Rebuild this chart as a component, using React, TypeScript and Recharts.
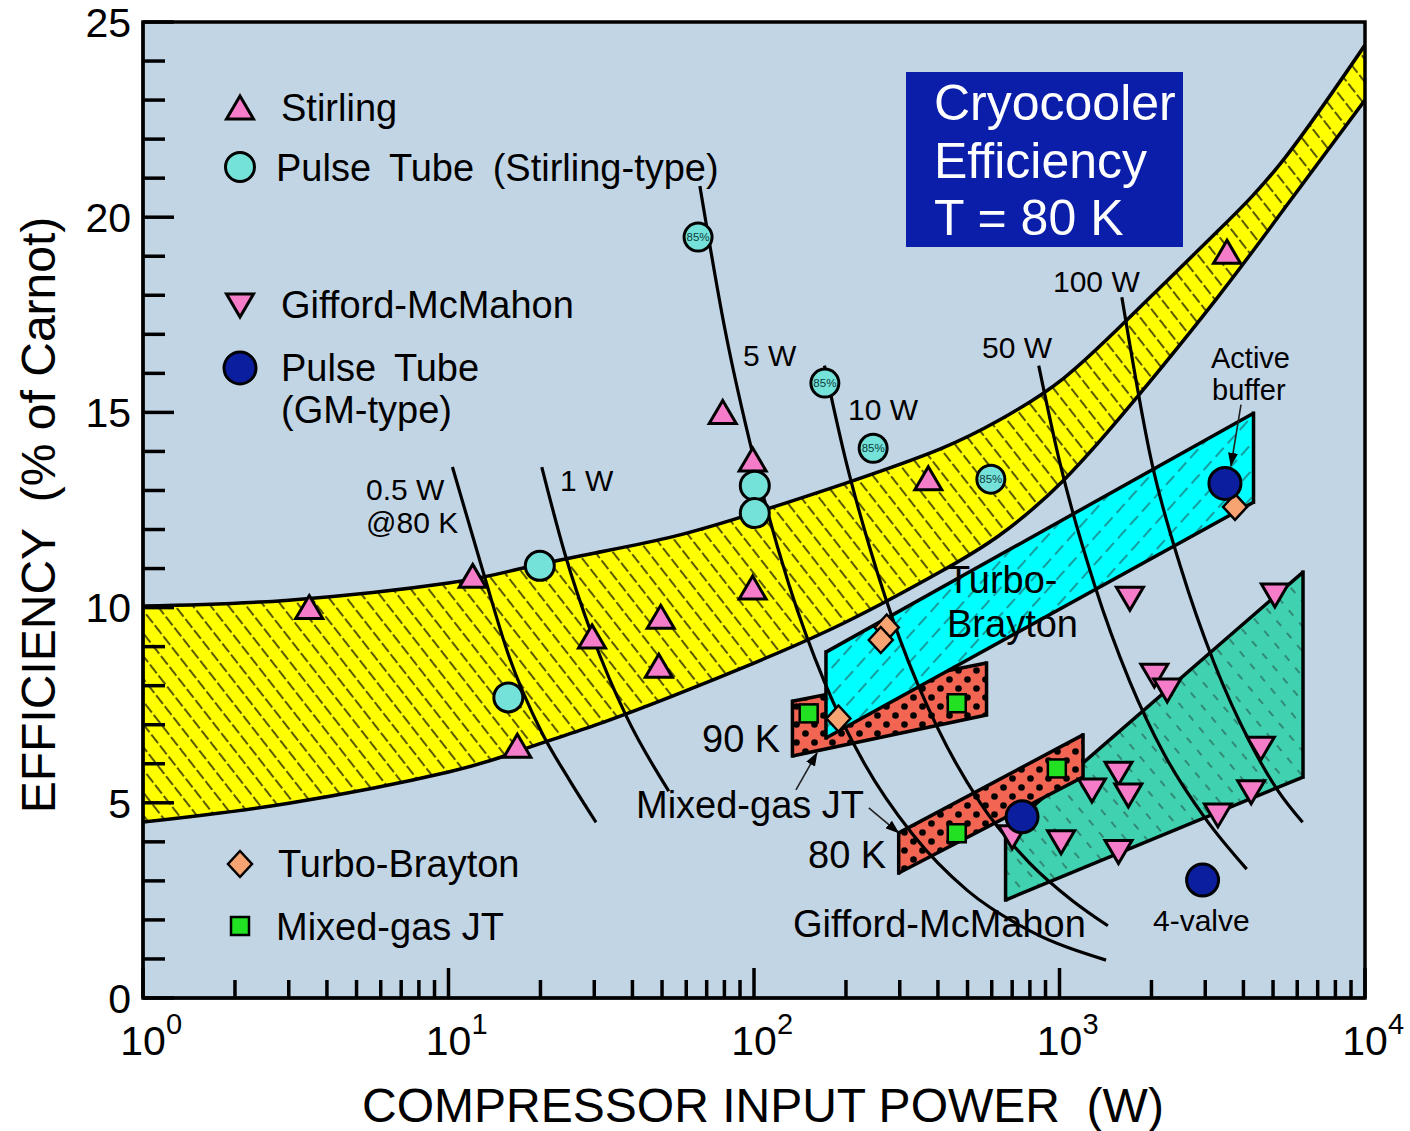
import React from 'react'
import { Area, ComposedChart, Line, Scatter, XAxis, YAxis, CartesianGrid } from 'recharts'

const FONT = '"Liberation Sans", Arial, Helvetica, sans-serif'

const PINK = '#f47cc8'
const AQUA = '#74e2d8'
const NAVY = '#0a1e9e'
const PEACH = '#f8a472'
const LIME = '#22e022'
const BG = '#c2d5e5'

// axis ticks
const xTicks = [
  1, 2, 3, 4, 5, 6, 7, 8, 9, 10, 20, 30, 40, 50, 60, 70, 80, 90, 100, 200, 300, 400, 500, 600, 700, 800, 900, 1000,
  2000, 3000, 4000, 5000, 6000, 7000, 8000, 9000, 10000,
]
const decades = [1, 10, 100, 1000, 10000]
const yTicks = [0, 1, 2, 3, 4, 5, 6, 7, 8, 9, 10, 11, 12, 13, 14, 15, 16, 17, 18, 19, 20, 21, 22, 23, 24, 25]

// p = compressor input power (W), e = efficiency (% of Carnot)
const stirling = [
  { p: 3.5, e: 10.0 }, { p: 12, e: 10.8 }, { p: 16.8, e: 6.45 }, { p: 29.5, e: 9.25 }, { p: 49.5, e: 9.75 },
  { p: 48.8, e: 8.5 }, { p: 79, e: 15.0 }, { p: 99, e: 13.78 }, { p: 99, e: 10.5 }, { p: 372, e: 13.3 },
  { p: 3535, e: 19.1 },
]
const pulseStirling = [
  { p: 19.9, e: 11.07 }, { p: 15.7, e: 7.7 }, { p: 100.6, e: 13.12 }, { p: 100.6, e: 12.42 },
]
const pulseStirling85 = [
  { p: 65.6, e: 19.49 }, { p: 170.6, e: 15.75 }, { p: 245.5, e: 14.08 }, { p: 596, e: 13.29 },
]
const giffordMcMahon = [
  { p: 1700, e: 10.24 }, { p: 5070, e: 10.32 }, { p: 2044, e: 8.27 }, { p: 2252, e: 7.89 }, { p: 4560, e: 6.4 },
  { p: 1560, e: 5.76 }, { p: 1277, e: 5.33 }, { p: 1680, e: 5.2 }, { p: 4240, e: 5.28 }, { p: 3300, e: 4.69 },
  { p: 1012, e: 4.0 }, { p: 1560, e: 3.75 }, { p: 700, e: 4.13 },
]
const pulseGM = [{ p: 3480, e: 13.18 }, { p: 754, e: 4.64 }, { p: 2940, e: 3.02 }]
const turboBrayton = [{ p: 272, e: 9.49 }, { p: 260, e: 9.17 }, { p: 189, e: 7.16 }, { p: 3755, e: 12.58 }]
const mixedGasJT = [{ p: 151, e: 7.29 }, { p: 461, e: 7.55 }, { p: 980, e: 5.88 }, { p: 461, e: 4.22 }]

// shaded regions: r = [lower, upper]
const stirlingBand = [
  { p: 1, r: [4.51, 10.04] }, { p: 3, r: [4.99, 10.19] }, { p: 10, r: [5.79, 10.63] }, { p: 17, r: [6.33, 10.99] },
  { p: 30.2, r: [6.99, 11.4] }, { p: 55.1, r: [7.76, 11.83] }, { p: 100, r: [8.58, 12.42] }, { p: 200, r: [9.63, 13.19] },
  { p: 406, r: [10.91, 14.06] }, { p: 638, r: [11.86, 14.81] }, { p: 1034, r: [13.27, 15.88] },
  { p: 1794, r: [15.39, 17.62] }, { p: 3303, r: [17.96, 19.65] }, { p: 5470, r: [20.24, 21.52] },
  { p: 10000, r: [23.0, 24.41] },
]
const turboRegion = [{ p: 172, r: [6.66, 8.86] }, { p: 4316, r: [12.7, 14.98] }]
const jt90Region = [{ p: 133.6, r: [6.2, 7.6] }, { p: 577, r: [7.25, 8.58] }]
const gmRegion = [{ p: 666, r: [2.51, 4.3] }, { p: 6268, r: [5.66, 10.91] }]
const jt80Region = [{ p: 297.6, r: [3.2, 4.23] }, { p: 1194, r: [5.66, 6.74] }]

// constant cooling-capacity lines at 80 K
const cap05W = [
  { p: 10.3, e: 13.6 }, { p: 13, e: 10.9 }, { p: 15.7, e: 8.8 }, { p: 20.2, e: 6.8 }, { p: 24.8, e: 5.6 }, { p: 30.4, e: 4.5 },
]
const cap1W = [{ p: 20.2, e: 13.6 }, { p: 24, e: 11.4 }, { p: 29.5, e: 9.3 }, { p: 38.3, e: 7.2 }, { p: 52.6, e: 5.3 }]
const cap5W = [
  { p: 66.5, e: 20.8 }, { p: 80, e: 17.2 }, { p: 100, e: 13.8 }, { p: 130, e: 10.6 }, { p: 170, e: 8.1 },
  { p: 230, e: 6.0 }, { p: 330, e: 4.2 }, { p: 500, e: 2.75 }, { p: 800, e: 1.72 }, { p: 1420, e: 0.97 },
]
const cap10W = [
  { p: 170, e: 16.2 }, { p: 200, e: 13.75 }, { p: 240, e: 11.5 }, { p: 300, e: 9.2 }, { p: 400, e: 6.9 },
  { p: 550, e: 5.0 }, { p: 800, e: 3.45 }, { p: 1100, e: 2.5 }, { p: 1440, e: 1.85 },
]
const cap50W = [
  { p: 855, e: 16.2 }, { p: 1000, e: 13.75 }, { p: 1300, e: 10.6 }, { p: 1700, e: 8.1 }, { p: 2200, e: 6.25 },
  { p: 3000, e: 4.6 }, { p: 4100, e: 3.3 },
]
const cap100W = [
  { p: 1600, e: 17.95 }, { p: 2000, e: 13.75 }, { p: 2500, e: 11 }, { p: 3200, e: 8.6 }, { p: 4200, e: 6.55 },
  { p: 5200, e: 5.3 }, { p: 6250, e: 4.5 },
]
const capLines = [cap05W, cap1W, cap5W, cap10W, cap50W, cap100W]

// annotation arrows (tail -> head)
const arrowBuffer = [{ p: 3927, e: 15.2 }, { p: 3641, e: 13.63 }]
const arrowJT90 = [{ p: 137.2, e: 5.33 }, { p: 160.8, e: 6.28 }]
const arrowJT80 = [{ p: 237.5, e: 4.87 }, { p: 297.6, e: 4.23 }]

const edgesOf = (poly: { p: number; r: number[] }[]) =>
  [poly[0], poly[poly.length - 1]].map((pt) => [
    { p: pt.p, e: pt.r[0] },
    { p: pt.p, e: pt.r[1] },
  ])

const TriUp = ({ cx, cy }: any) => (
  <path d={`M${cx},${cy - 12} L${cx + 13.5},${cy + 11} L${cx - 13.5},${cy + 11} Z`} fill={PINK} stroke="#000" strokeWidth={3} />
)
const TriDown = ({ cx, cy }: any) => (
  <path d={`M${cx - 13.5},${cy - 11} L${cx + 13.5},${cy - 11} L${cx},${cy + 12} Z`} fill={PINK} stroke="#000" strokeWidth={3} />
)
const AquaDot = ({ cx, cy }: any) => <circle cx={cx} cy={cy} r={14.5} fill={AQUA} stroke="#000" strokeWidth={3} />
const Aqua85 = ({ cx, cy }: any) => (
  <g>
    <circle cx={cx} cy={cy} r={14} fill={AQUA} stroke="#000" strokeWidth={3} />
    <text x={cx} y={cy + 4} textAnchor="middle" fontSize={11.5} fontFamily={FONT} fill="#0e3c3c">85%</text>
  </g>
)
const NavyDot = ({ cx, cy }: any) => <circle cx={cx} cy={cy} r={16} fill={NAVY} stroke="#000" strokeWidth={3} />
const Diamond = ({ cx, cy }: any) => (
  <path d={`M${cx},${cy - 13} L${cx + 12},${cy} L${cx},${cy + 13} L${cx - 12},${cy} Z`} fill={PEACH} stroke="#000" strokeWidth={2.5} />
)
const Square = ({ cx, cy }: any) => (
  <rect x={cx - 9} y={cy - 9} width={18} height={18} fill={LIME} stroke="#000" strokeWidth={2.5} />
)

const BottomTick = ({ x, y, payload }: any) => {
  const k = decades.indexOf(payload.value)
  return (
    <g>
      <line x1={x} x2={x} y1={y} y2={y - (k >= 0 ? 30 : 18)} stroke="#000" strokeWidth={3.5} />
      {k >= 0 && (
        <g fontFamily={FONT} fill="#000">
          <text x={x} y={y + 57} textAnchor="middle" fontSize={41}>10</text>
          <text x={x + 23} y={y + 36} fontSize={29}>{k}</text>
        </g>
      )}
    </g>
  )
}
const TopTick = ({ x, y, payload }: any) => {
  const major = decades.includes(payload.value)
  return <line x1={x} x2={x} y1={y} y2={y + (major ? 32 : 18)} stroke="#000" strokeWidth={3.5} />
}
const LeftTick = ({ x, y, payload }: any) => {
  const major = payload.value % 5 === 0
  return (
    <g>
      <line x1={x} x2={x + (major ? 31 : 22)} y1={y} y2={y} stroke="#000" strokeWidth={3.5} />
      {major && (
        <text x={x - 12} y={y} dy="0.36em" textAnchor="end" fontSize={41} fontFamily={FONT} fill="#000">
          {payload.value}
        </text>
      )}
    </g>
  )
}
const RightTick = ({ x, y, payload }: any) => {
  const major = payload.value % 5 === 0
  return <line x1={x} x2={x - (major ? 30 : 20)} y1={y} y2={y} stroke="#000" strokeWidth={3.5} />
}

const pre = { whiteSpace: 'pre' as const }
const label = (x: number, y: number, text: string, size = 30) => (
  <text x={x} y={y} fontSize={size} style={pre}>{text}</text>
)

export default function App() {
  return (
    <div style={{ position: 'absolute', left: 0, top: 0, width: 1410, height: 1131, background: '#fff' }}>
      <ComposedChart width={1410} height={1131} margin={{ top: 22, right: 45, bottom: 0, left: 0 }}>
        <defs>
          <pattern id="hatchYellow" width="14" height="14" patternUnits="userSpaceOnUse" patternTransform="rotate(-38)">
            <rect width="14" height="14" fill="#ffff00" />
            <line x1="3" y1="0" x2="3" y2="14" stroke="#000" strokeWidth="1.3" strokeDasharray="11 3" />
          </pattern>
          <pattern id="hatchCyan" width="18" height="18" patternUnits="userSpaceOnUse" patternTransform="rotate(42)">
            <rect width="18" height="18" fill="#00ffff" />
            <line x1="3" y1="0" x2="3" y2="18" stroke="#2a3a3a" strokeWidth="1" strokeDasharray="12 6" />
          </pattern>
          <pattern id="hatchTeal" width="16" height="16" patternUnits="userSpaceOnUse" patternTransform="rotate(-40)">
            <rect width="16" height="16" fill="#3fd1b0" />
            <line x1="3" y1="0" x2="3" y2="16" stroke="#24443a" strokeWidth="1" strokeDasharray="7 9" />
          </pattern>
          <pattern id="dotsRed" width="18" height="18" patternUnits="userSpaceOnUse">
            <rect width="18" height="18" fill="#f26552" />
            <circle cx="4.5" cy="4.5" r="3.3" fill="#000" />
            <circle cx="13.5" cy="13.5" r="3.3" fill="#000" />
          </pattern>
          <marker id="arrowHead" viewBox="0 0 14 10" refX="13" refY="5" markerWidth="14" markerHeight="10"
            markerUnits="userSpaceOnUse" orient="auto">
            <path d="M0,0 L14,5 L0,10 Z" fill="#000" />
          </marker>
        </defs>
        <CartesianGrid horizontal={false} vertical={false} fill={BG} />
        <XAxis dataKey="p" type="number" scale="log" domain={[1, 10000]} allowDataOverflow ticks={xTicks} interval={0}
          height={133} tickSize={0} tickMargin={0} tick={<BottomTick />} tickLine={false}
          axisLine={{ stroke: '#000', strokeWidth: 3 }} />
        <XAxis xAxisId="top" orientation="top" dataKey="p" type="number" scale="log" domain={[1, 10000]}
          allowDataOverflow ticks={xTicks} interval={0} height={0} tickSize={0} tickMargin={0} tick={<TopTick />}
          tickLine={false} axisLine={{ stroke: '#000', strokeWidth: 3 }} />
        <YAxis dataKey="e" type="number" domain={[0, 25]} allowDataOverflow ticks={yTicks} interval={0} width={143}
          tickSize={0} tickMargin={0} tick={<LeftTick />} tickLine={false} axisLine={{ stroke: '#000', strokeWidth: 3 }} />
        <YAxis yAxisId="right" orientation="right" dataKey="e" type="number" domain={[0, 25]} allowDataOverflow
          ticks={yTicks} interval={0} width={0} tickSize={0} tickMargin={0} tick={<RightTick />} tickLine={false}
          axisLine={{ stroke: '#000', strokeWidth: 3 }} />

        <Area data={stirlingBand} dataKey="r" type="natural" fill="url(#hatchYellow)" fillOpacity={1} stroke="#000"
          strokeWidth={3.5} isAnimationActive={false} />
        <Area data={jt90Region} dataKey="r" type="linear" fill="url(#dotsRed)" fillOpacity={1} stroke="#000"
          strokeWidth={3.5} isAnimationActive={false} />
        <Area data={turboRegion} dataKey="r" type="linear" fill="url(#hatchCyan)" fillOpacity={1} stroke="#000"
          strokeWidth={3.5} isAnimationActive={false} />
        <Area data={gmRegion} dataKey="r" type="linear" fill="url(#hatchTeal)" fillOpacity={1} stroke="#000"
          strokeWidth={3.5} isAnimationActive={false} />
        <Area data={jt80Region} dataKey="r" type="linear" fill="url(#dotsRed)" fillOpacity={1} stroke="#000"
          strokeWidth={3.5} isAnimationActive={false} />

        {[jt90Region, turboRegion, gmRegion, jt80Region].flatMap((poly, i) =>
          edgesOf(poly).map((seg, j) => (
            <Line key={`edge-${i}-${j}`} data={seg} dataKey="e" type="linear" stroke="#000" strokeWidth={3.5}
              strokeLinecap="square" dot={false} activeDot={false} isAnimationActive={false} />
          )),
        )}
        {capLines.map((d, i) => (
          <Line key={`cap-${i}`} data={d} dataKey="e" type="monotone" stroke="#000" strokeWidth={3.2} dot={false}
            activeDot={false} isAnimationActive={false} />
        ))}
        {[arrowBuffer, arrowJT90, arrowJT80].map((d, i) => (
          <Line key={`arrow-${i}`} data={d} dataKey="e" type="linear" stroke="#222" strokeWidth={1.6} dot={false}
            activeDot={false} markerEnd="url(#arrowHead)" isAnimationActive={false} />
        ))}

        <Scatter data={stirling} shape={TriUp} isAnimationActive={false} />
        <Scatter data={pulseStirling} shape={AquaDot} isAnimationActive={false} />
        <Scatter data={pulseStirling85} shape={Aqua85} isAnimationActive={false} />
        <Scatter data={giffordMcMahon} shape={TriDown} isAnimationActive={false} />
        <Scatter data={turboBrayton} shape={Diamond} isAnimationActive={false} />
        <Scatter data={mixedGasJT} shape={Square} isAnimationActive={false} />
        <Scatter data={pulseGM} shape={NavyDot} isAnimationActive={false} />
      </ComposedChart>

      <svg width={1410} height={1131} style={{ position: 'absolute', left: 0, top: 0, pointerEvents: 'none' }}
        fontFamily={FONT} fill="#000">
        <defs>
          <clipPath id="titleClip">
            <rect x={906} y={72} width={277} height={175} />
          </clipPath>
        </defs>
        <rect x={143} y={22} width={1222} height={976} fill="none" stroke="#000" strokeWidth={3.5} />

        {/* legend */}
        <TriUp cx={240} cy={108} />
        {label(281, 121, 'Stirling', 38)}
        <AquaDot cx={240} cy={167} />
        <text x={276} y={181} fontSize={38} wordSpacing={8}>Pulse Tube (Stirling-type)</text>
        <TriDown cx={240} cy={305} />
        {label(281, 318, 'Gifford-McMahon', 38)}
        <NavyDot cx={240} cy={368} />
        <text x={281} y={381} fontSize={38} wordSpacing={8}>Pulse Tube</text>
        {label(281, 423, '(GM-type)', 38)}
        <Diamond cx={240} cy={864} />
        {label(278, 877, 'Turbo-Brayton', 38)}
        <Square cx={240} cy={926} />
        {label(276, 940, 'Mixed-gas JT', 38)}

        {/* title box */}
        <rect x={906} y={72} width={277} height={175} fill="#0a1eaa" />
        <g clipPath="url(#titleClip)" fill="#fff" fontSize={50}>
          <text x={934} y={120}>Cryocooler</text>
          <text x={934} y={178}>Efficiency</text>
          <text x={934} y={235}>T = 80 K</text>
        </g>

        {/* capacity labels */}
        {label(366, 500, '0.5 W')}
        {label(366, 533, '@80 K')}
        {label(560, 491, '1 W')}
        {label(743, 366, '5 W')}
        {label(848, 420, '10 W')}
        {label(982, 358, '50 W')}
        {label(1053, 292, '100 W')}
        {label(1211, 368, 'Active', 29)}
        {label(1212, 400, 'buffer', 29)}
        {label(947, 593, 'Turbo-', 38)}
        {label(947, 637, 'Brayton', 38)}
        {label(702, 752, '90 K', 38)}
        {label(636, 818, 'Mixed-gas JT', 38)}
        {label(808, 868, '80 K', 38)}
        {label(793, 937, 'Gifford-McMahon', 38)}
        {label(1153, 931, '4-valve', 30)}

        {/* axis titles */}
        <text x={763} y={1122} textAnchor="middle" fontSize={48} style={pre}>COMPRESSOR INPUT POWER  (W)</text>
        <text transform="translate(55,515) rotate(-90)" textAnchor="middle" fontSize={48} style={pre}>
          EFFICIENCY  (% of Carnot)
        </text>
      </svg>
    </div>
  )
}
